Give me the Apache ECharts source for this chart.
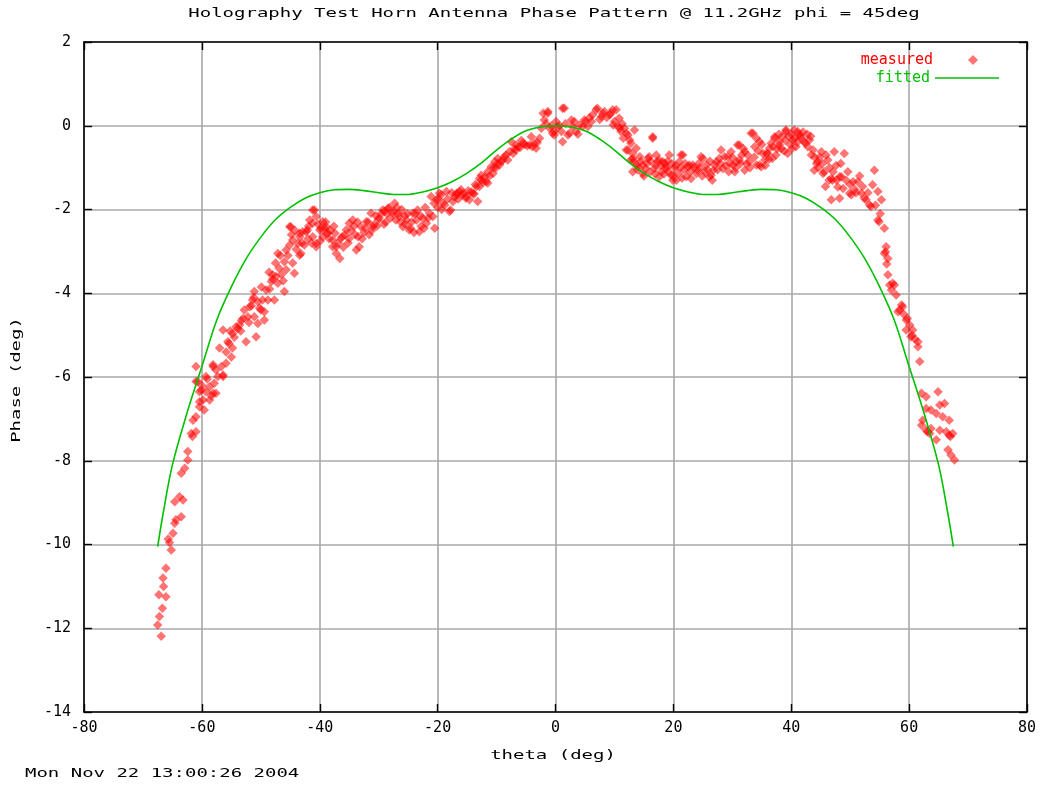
<!DOCTYPE html>
<html>
<head>
<meta charset="utf-8">
<title>Holography Test Horn Antenna Phase Pattern</title>
<script src="https://cdn.jsdelivr.net/npm/echarts@6/dist/echarts.min.js"></script>
<style>
  html, body { margin: 0; padding: 0; background: #ffffff; }
  #chart { width: 1049px; height: 786px; }
</style>
</head>
<body>
<div id="chart"></div>
<script>
// Axis ranges and tick spacing
const thetaRange = [-80, 80, 20];
const phaseRange = [-14, 2, 2];

// Text drawn around the plot
const titleText = 'Holography Test Horn Antenna Phase Pattern @ 11.2GHz phi = 45deg';
const xName = 'theta (deg)';
const yName = 'Phase (deg)';
const stampText = 'Mon Nov 22 13:00:26 2004';
const seriesNames = ['measured', 'fitted'];

// Fitted phase model, theta (deg) vs phase (deg)
const fitTheta = [-67.5, -66.5, -65, -62.5, -60, -57.5, -55, -52.5, -50, -47.5, -45, -42.5, -40, -37.5, -35,
  -32.5, -30, -27.5, -25, -22.5, -20, -17.5, -15, -12.5, -10, -7.5, -5, -2.5, 0,
  2.5, 5, 7.5, 10, 12.5, 15, 17.5, 20, 22.5, 25, 27.5, 30, 32.5, 35, 37.5, 40, 42.5, 45,
  47.5, 50, 52.5, 55, 57.5, 60, 62.5, 65, 66.5, 67.5];
const fitPhase = [-10.05, -9.2, -8.1, -6.85, -5.75, -4.65, -3.85, -3.18, -2.66, -2.24, -1.95, -1.73, -1.60, -1.53, -1.52,
  -1.55, -1.60, -1.64, -1.64, -1.58, -1.48, -1.33, -1.13, -0.88, -0.58, -0.32, -0.12, -0.03, 0.0,
  -0.03, -0.12, -0.32, -0.58, -0.88, -1.13, -1.33, -1.48, -1.58, -1.64, -1.64, -1.60, -1.55, -1.52, -1.53, -1.60, -1.73, -1.95,
  -2.24, -2.66, -3.18, -3.85, -4.65, -5.75, -6.85, -8.1, -9.2, -10.05];

// Measured phase samples [theta, phase]
const measured = [
  [-67.5,-11.92],[-67.3,-11.2],[-67.2,-11.72],[-66.9,-12.19],[-66.7,-11.52],[-66.6,-10.8],[-66.5,-11.0],[-66.1,-11.25],
  [-66.1,-10.57],[-65.7,-9.87],[-65.5,-9.95],[-65.2,-10.13],[-64.9,-9.73],[-64.6,-9.49],[-64.6,-8.98],[-64.4,-9.41],
  [-63.8,-8.86],[-63.5,-9.34],[-63.5,-8.3],[-63.2,-8.94],[-62.9,-8.18],[-62.4,-7.98],[-62.4,-7.78],[-61.8,-7.35],
  [-61.6,-7.42],[-61.5,-7.03],[-61.0,-7.31],[-61.0,-6.95],[-61.0,-6.11],[-61.0,-5.75],[-60.7,-6.11],[-60.4,-6.71],
  [-60.4,-6.35],[-60.4,-6.59],[-60.1,-6.31],[-60.0,-6.2],[-59.8,-6.55],[-59.6,-6.79],[-59.3,-6.35],[-59.3,-5.99],
  [-59.1,-6.05],[-58.7,-6.23],[-58.7,-6.55],[-58.4,-6.45],[-58.1,-6.39],[-58.1,-5.75],[-58.1,-5.71],[-57.9,-6.15],
  [-57.6,-6.39],[-57.6,-5.83],[-57.3,-5.99],[-57.0,-5.31],[-56.7,-5.75],[-56.4,-5.99],[-56.4,-5.95],[-56.4,-4.88],
  [-55.9,-5.67],[-55.9,-5.4],[-55.6,-5.16],[-55.4,-5.2],[-55.2,-4.9],[-55.0,-5.52],[-54.8,-5.31],[-54.8,-4.96],
  [-54.5,-5.05],[-54.2,-4.8],[-53.9,-4.85],[-53.6,-4.76],[-53.4,-4.9],[-53.3,-4.65],[-53.0,-4.6],[-52.8,-4.4],
  [-52.5,-5.16],[-52.2,-4.56],[-52.0,-4.7],[-51.9,-4.32],[-51.6,-4.3],[-51.4,-4.16],[-51.2,-4.1],[-51.1,-4.56],
  [-51.1,-3.96],[-50.8,-5.04],[-50.5,-4.72],[-50.5,-4.2],[-50.2,-4.35],[-50.0,-4.4],[-49.9,-3.85],[-49.7,-4.16],
  [-49.4,-4.64],[-49.4,-4.44],[-49.1,-3.92],[-48.8,-4.16],[-48.6,-3.5],[-48.5,-3.9],[-48.2,-3.72],[-48.0,-3.66],
  [-48.0,-3.56],[-47.7,-4.16],[-47.5,-3.28],[-47.4,-3.6],[-47.1,-3.76],[-47.1,-3.05],[-46.9,-3.4],[-46.7,-3.1],
  [-46.5,-3.55],[-46.2,-3.7],[-46.0,-3.96],[-46.0,-3.25],[-45.7,-3.44],[-45.7,-2.97],[-45.4,-3.1],[-45.1,-2.85],
  [-45.1,-2.41],[-44.9,-2.41],[-44.8,-2.6],[-44.6,-3.28],[-44.6,-2.73],[-44.3,-3.52],[-44.2,-2.5],[-44.0,-2.95],
  [-43.7,-2.81],[-43.4,-3.09],[-43.2,-3.05],[-43.4,-2.57],[-43.4,-2.65],[-43.0,-2.8],[-42.9,-2.53],[-42.6,-2.85],
  [-42.3,-2.53],[-42.1,-2.49],[-42.0,-2.7],[-41.9,-2.4],[-41.7,-2.25],[-41.4,-2.8],[-41.2,-2.65],[-41.2,-2.33],
  [-41.2,-2.01],[-40.9,-2.01],[-40.6,-2.81],[-40.6,-2.17],[-40.6,-2.89],[-40.3,-2.35],[-40.0,-2.49],[-39.9,-2.75],
  [-39.8,-2.45],[-39.5,-2.29],[-39.5,-2.65],[-39.2,-2.45],[-39.0,-2.3],[-38.9,-2.57],[-38.9,-2.41],[-38.6,-2.57],
  [-38.4,-2.7],[-38.2,-2.5],[-37.8,-2.89],[-37.8,-2.73],[-37.6,-2.4],[-37.4,-2.57],[-37.2,-3.05],[-37.2,-2.89],
  [-36.9,-2.8],[-36.6,-3.17],[-36.4,-2.69],[-36.2,-2.65],[-36.0,-2.9],[-35.7,-2.6],[-35.5,-2.49],[-35.2,-2.8],
  [-35.0,-2.33],[-35.0,-2.69],[-34.7,-2.5],[-34.4,-2.25],[-34.2,-2.4],[-34.0,-2.6],[-33.8,-2.97],[-33.6,-2.3],
  [-33.5,-2.65],[-33.3,-2.89],[-33.0,-2.41],[-32.8,-2.7],[-32.5,-2.55],[-32.3,-2.45],[-32.1,-2.29],[-31.8,-2.3],
  [-31.6,-2.6],[-31.3,-2.09],[-31.2,-2.5],[-31.0,-2.41],[-30.8,-2.37],[-30.5,-2.15],[-30.3,-2.4],[-30.1,-2.25],
  [-29.9,-2.2],[-29.6,-2.1],[-29.3,-2.01],[-29.1,-2.35],[-29.0,-2.05],[-28.8,-2.3],[-28.6,-2.1],[-28.4,-1.97],
  [-28.2,-1.95],[-28.0,-2.2],[-27.6,-2.09],[-27.4,-2.05],[-27.3,-1.85],[-27.1,-2.25],[-26.9,-1.95],[-26.7,-2.1],
  [-26.5,-2.17],[-26.3,-2.3],[-26.1,-2.0],[-25.9,-2.41],[-25.6,-2.15],[-25.5,-2.35],[-25.3,-2.25],[-25.1,-2.1],
  [-24.8,-2.49],[-24.6,-2.45],[-24.4,-2.3],[-24.2,-2.09],[-24.0,-2.55],[-23.8,-2.1],[-23.6,-2.25],[-23.4,-2.01],
  [-23.1,-2.53],[-22.9,-2.15],[-22.8,-2.4],[-22.5,-2.21],[-22.3,-2.45],[-22.1,-1.95],[-21.9,-2.33],[-21.6,-2.2],
  [-21.4,-2.09],[-21.1,-1.69],[-20.8,-2.17],[-20.6,-1.85],[-20.5,-2.45],[-20.2,-1.77],[-20.0,-1.95],[-19.9,-1.75],
  [-19.7,-1.61],[-19.4,-1.65],[-19.3,-2.0],[-19.1,-1.85],[-18.8,-1.89],[-18.5,-1.57],[-18.3,-1.75],[-18.0,-2.05],
  [-17.8,-2.01],[-17.6,-1.6],[-17.4,-1.81],[-17.1,-1.7],[-16.8,-1.61],[-16.8,-1.65],[-16.5,-1.75],[-16.3,-1.57],
  [-16.0,-1.53],[-15.9,-1.65],[-15.6,-1.62],[-15.2,-1.69],[-15.2,-1.73],[-14.8,-1.55],[-14.6,-1.77],[-14.3,-1.58],
  [-14.0,-1.61],[-13.8,-1.63],[-13.6,-1.4],[-13.4,-1.45],[-13.2,-1.81],[-12.9,-1.45],[-12.9,-1.26],[-12.6,-1.3],
  [-12.6,-1.18],[-12.3,-1.35],[-12.0,-1.22],[-11.8,-1.34],[-11.5,-1.37],[-11.5,-1.1],[-11.2,-1.2],[-10.9,-0.98],
  [-10.6,-1.14],[-10.5,-1.0],[-10.3,-0.86],[-10.1,-1.0],[-9.8,-0.9],[-9.8,-0.78],[-9.5,-0.94],[-9.2,-0.85],
  [-8.9,-0.82],[-8.7,-0.74],[-8.4,-0.7],[-8.1,-0.82],[-7.8,-0.62],[-7.5,-0.38],[-7.2,-0.66],[-7.0,-0.55],
  [-6.7,-0.58],[-6.7,-0.46],[-6.3,-0.5],[-6.0,-0.52],[-5.8,-0.35],[-5.5,-0.42],[-5.2,-0.45],[-4.8,-0.48],
  [-4.4,-0.46],[-4.1,-0.26],[-3.9,-0.5],[-3.6,-0.42],[-3.3,-0.54],[-3.1,-0.4],[-2.7,-0.3],[-2.4,-0.06],
  [-2.1,0.3],[-1.9,0.14],[-1.6,0.05],[-1.3,0.34],[-1.3,0.3],[-1.0,-0.06],[-0.7,0.0],[-0.5,-0.18],
  [-0.2,-0.22],[-0.2,-0.14],[0.1,0.1],[0.4,-0.02],[0.7,0.0],[1.0,-0.14],[1.2,-0.38],[1.2,0.42],
  [1.5,0.42],[1.7,0.05],[2.1,-0.22],[2.4,-0.18],[2.7,0.14],[2.9,-0.02],[3.2,0.1],[3.5,-0.14],
  [3.8,-0.2],[4.1,0.02],[4.6,-0.02],[4.9,0.14],[5.1,0.1],[5.5,-0.02],[5.8,0.2],[6.1,0.1],
  [6.3,0.26],[6.9,0.38],[7.1,0.42],[7.5,0.15],[7.8,0.22],[8.0,0.3],[8.3,0.34],[8.7,0.2],
  [9.2,0.26],[9.4,0.3],[9.7,0.38],[9.8,0.02],[10.0,0.1],[10.3,0.38],[10.6,-0.02],[10.8,0.18],
  [10.9,-0.06],[11.1,-0.14],[11.3,0.05],[11.5,-0.3],[11.7,-0.06],[12.0,-0.18],[12.0,-0.58],[12.3,-0.22],
  [12.3,-0.58],[12.6,-0.34],[12.8,-0.42],[12.8,-0.82],[13.1,-0.66],[13.1,-1.1],[13.1,-0.78],[13.3,-0.85],
  [13.4,-0.1],[13.7,-0.94],[13.7,-0.54],[13.9,-1.05],[14.0,-0.98],[14.3,-0.74],[14.5,-0.85],[14.8,-0.94],
  [14.8,-1.14],[15.0,-1.2],[15.3,-1.02],[15.5,-0.9],[15.7,-0.78],[15.9,-0.74],[16.0,-1.1],[16.2,-0.85],
  [16.5,-0.3],[16.5,-0.26],[16.8,-1.02],[16.9,-1.15],[17.0,-0.95],[17.1,-0.7],[17.3,-0.85],[17.6,-1.22],
  [17.6,-0.82],[17.9,-0.95],[18.0,-1.1],[18.2,-0.86],[18.4,-1.15],[18.5,-0.9],[18.8,-0.98],[18.8,-1.02],
  [19.0,-0.85],[19.2,-1.1],[19.3,-0.7],[19.6,-1.18],[19.7,-0.9],[19.9,-1.3],[20.0,-1.2],[20.2,-1.0],
  [20.4,-0.95],[20.5,-1.3],[20.8,-1.14],[21.0,-0.86],[21.2,-1.0],[21.3,-0.7],[21.5,-1.25],[21.6,-0.7],
  [21.8,-1.05],[22.0,-0.9],[22.2,-1.22],[22.5,-0.98],[22.7,-0.94],[22.8,-1.1],[23.0,-1.26],[23.3,-0.94],
  [23.5,-1.0],[23.9,-1.14],[24.1,-1.06],[24.3,-0.9],[24.5,-1.0],[24.7,-0.74],[24.9,-1.2],[25.0,-0.78],
  [25.3,-1.1],[25.6,-0.94],[25.8,-1.05],[26.1,-1.22],[26.2,-0.85],[26.4,-1.18],[26.6,-1.3],[26.8,-1.06],
  [27.0,-0.94],[27.3,-0.86],[27.5,-1.05],[27.8,-0.78],[28.0,-0.9],[28.1,-0.58],[28.4,-1.02],[28.7,-0.74],
  [28.9,-0.95],[29.2,-0.74],[29.4,-1.1],[29.6,-0.9],[29.8,-0.62],[30.0,-0.75],[30.1,-0.94],[30.4,-1.1],
  [30.6,-1.0],[30.7,-0.86],[30.9,-0.46],[31.2,-0.82],[31.2,-0.46],[31.4,-0.9],[31.6,-0.7],[31.9,-0.55],
  [32.1,-0.62],[32.1,-1.06],[32.4,-0.9],[32.6,-0.7],[32.9,-0.86],[33.0,-1.0],[33.2,-0.18],[33.5,-0.18],
  [33.7,-0.75],[33.8,-0.5],[34.1,-0.3],[34.1,-0.94],[34.4,-0.6],[34.6,-0.94],[34.6,-0.38],[34.9,-0.98],
  [35.0,-0.45],[35.2,-0.66],[35.5,-0.82],[35.6,-0.95],[35.8,-0.66],[36.0,-0.66],[36.2,-0.8],[36.3,-0.54],
  [36.6,-0.42],[36.8,-0.78],[36.9,-0.5],[37.2,-0.3],[37.2,-0.26],[37.4,-0.7],[37.6,-0.55],[37.9,-0.2],
  [38.0,-0.46],[38.0,-0.38],[38.3,-0.55],[38.5,-0.25],[38.8,-0.6],[39.0,-0.35],[39.1,-0.14],[39.1,-0.1],
  [39.4,-0.66],[39.6,-0.25],[39.8,-0.45],[40.0,-0.2],[40.1,-0.55],[40.3,-0.34],[40.5,-0.1],[40.6,-0.3],
  [40.8,-0.5],[41.0,-0.4],[41.1,-0.14],[41.3,-0.2],[41.5,-0.25],[41.7,-0.3],[42.0,-0.15],[42.2,-0.38],
  [42.4,-0.42],[42.7,-0.2],[42.8,-0.5],[43.1,-0.34],[43.3,-0.25],[43.4,-0.7],[43.7,-0.58],[43.9,-1.06],
  [44.0,-0.75],[44.3,-0.9],[44.5,-0.86],[44.6,-1.0],[44.8,-0.75],[45.1,-0.62],[45.3,-0.9],[45.4,-1.14],
  [45.6,-1.1],[45.8,-1.45],[45.9,-0.7],[46.2,-0.82],[46.4,-1.3],[46.5,-1.0],[46.8,-1.26],[46.8,-1.77],
  [47.0,-1.3],[47.1,-1.1],[47.3,-0.62],[47.6,-0.95],[47.7,-1.3],[47.9,-1.46],[48.2,-1.73],[48.2,-1.22],
  [48.4,-0.9],[48.5,-1.22],[48.8,-1.5],[49.0,-0.66],[49.3,-1.3],[49.6,-1.1],[49.9,-1.61],[50.0,-1.4],
  [50.2,-1.65],[50.5,-1.34],[50.8,-1.52],[51.0,-1.6],[51.3,-1.34],[51.6,-1.2],[51.9,-1.61],[52.1,-1.45],
  [52.4,-1.73],[52.7,-1.77],[53.0,-1.6],[53.3,-1.89],[53.5,-1.93],[53.8,-1.41],[54.1,-1.06],[54.3,-1.9],
  [54.7,-1.57],[54.7,-2.25],[54.9,-2.29],[55.1,-2.1],[55.3,-1.77],[55.8,-2.45],[55.8,-3.05],[56.0,-3.01],
  [56.1,-2.89],[56.2,-3.3],[56.4,-3.17],[56.4,-3.56],[56.7,-3.8],[57.0,-3.92],[57.2,-3.76],[57.5,-3.8],
  [57.8,-4.04],[58.1,-4.44],[58.4,-4.4],[58.7,-4.28],[58.9,-4.32],[59.1,-4.5],[59.5,-4.64],[59.5,-4.88],
  [59.7,-4.6],[60.1,-4.76],[60.3,-5.04],[60.5,-5.0],[60.6,-4.88],[61.0,-5.1],[61.5,-5.16],[61.5,-5.28],
  [61.8,-5.63],[62.1,-6.39],[62.1,-7.15],[62.3,-7.03],[62.9,-6.47],[62.9,-6.75],[62.9,-7.27],[63.1,-7.31],
  [63.5,-7.35],[63.7,-6.79],[63.7,-7.23],[64.6,-6.87],[64.6,-7.5],[64.9,-6.35],[65.2,-6.67],[65.2,-7.27],
  [65.7,-6.95],[66.0,-6.63],[66.3,-7.31],[66.6,-7.74],[66.8,-7.03],[66.8,-7.39],[67.0,-7.42],[67.1,-7.86],
  [67.4,-7.35],[67.7,-7.98]
];

const fitted = fitTheta.map((t, i) => [t, fitPhase[i]]);

const chart = echarts.init(document.getElementById('chart'), null, { renderer: 'canvas' });

const monoFont = '"DejaVu Sans Mono", "Liberation Mono", monospace';
const stretch = 1.46;   // widens the monospace glyphs to the plotter's wide character cell
const gridColor = '#a8a8a8';
const redColor = '#ff0000';
const greenColor = '#00c000';
const frame = { show: true, onZero: false, lineStyle: { color: '#000000', width: 1.6 } };
const ticks = { show: true, inside: true, length: 8, lineStyle: { color: '#000000', width: 1.4 } };
const legendText = { fontFamily: monoFont, fontSize: 15, lineHeight: 16 };

function wideText(text, x, y, opts) {
  return Object.assign({
    type: 'text', x: x, y: y, scaleX: stretch, silent: true,
    style: {
      text: text, font: '13px ' + monoFont, fill: '#000000',
      textAlign: 'center', textVerticalAlign: 'middle'
    }
  }, opts || {});
}

function axisPair(range, primaryPos, mirrorPos, isX) {
  const base = { type: 'value', min: range[0], max: range[1], interval: range[2], axisLine: frame, axisTick: ticks };
  return [
    Object.assign({}, base, {
      position: primaryPos,
      splitLine: { show: true, lineStyle: { color: gridColor, width: 1.6 } },
      axisLabel: {
        show: true, color: '#000000', fontFamily: monoFont, fontSize: 15,
        margin: isX ? 9 : 13
      }
    }),
    Object.assign({}, base, {
      position: mirrorPos,
      splitLine: { show: false },
      axisLabel: { show: false }
    })
  ];
}

chart.setOption({
  backgroundColor: '#ffffff',
  animation: false,
  grid: { left: 84, right: 22, top: 42, bottom: 74, containLabel: false },
  xAxis: axisPair(thetaRange, 'bottom', 'top', true),
  yAxis: axisPair(phaseRange, 'left', 'right', false),
  legend: [
    {
      // key for the measured samples: diamond with the label to its left
      orient: 'vertical', right: 66, top: 47, align: 'right',
      itemWidth: 10, itemHeight: 10, selectedMode: false,
      icon: 'diamond',
      textStyle: Object.assign({ color: redColor, padding: [0, 30, 0, 0] }, legendText),
      data: [seriesNames[0]]
    },
    {
      // key for the fitted curve: a short line segment
      orient: 'vertical', right: 45, top: 65, align: 'right',
      itemWidth: 64, itemHeight: 1.6, selectedMode: false,
      icon: 'rect',
      textStyle: Object.assign({ color: greenColor }, legendText),
      data: [seriesNames[1]]
    }
  ],
  graphic: [
    wideText(titleText, 554, 14),
    wideText(xName, 553, 756),
    wideText(yName, 17, 380, { rotation: Math.PI / 2 }),
    wideText(stampText, 25, 774, { style: { text: stampText, font: '13px ' + monoFont, fill: '#000000', textAlign: 'left', textVerticalAlign: 'middle' } })
  ],
  series: [
    {
      name: seriesNames[0],
      type: 'scatter',
      xAxisIndex: 0,
      yAxisIndex: 0,
      symbol: 'diamond',
      symbolSize: 9.5,
      itemStyle: { color: redColor, opacity: 0.55 },
      data: measured,
      z: 3
    },
    {
      name: seriesNames[1],
      type: 'line',
      xAxisIndex: 0,
      yAxisIndex: 0,
      symbol: 'none',
      smooth: 0.35,
      lineStyle: { color: greenColor, width: 1.6 },
      itemStyle: { color: greenColor },
      data: fitted,
      z: 4
    }
  ]
});
</script>
</body>
</html>
